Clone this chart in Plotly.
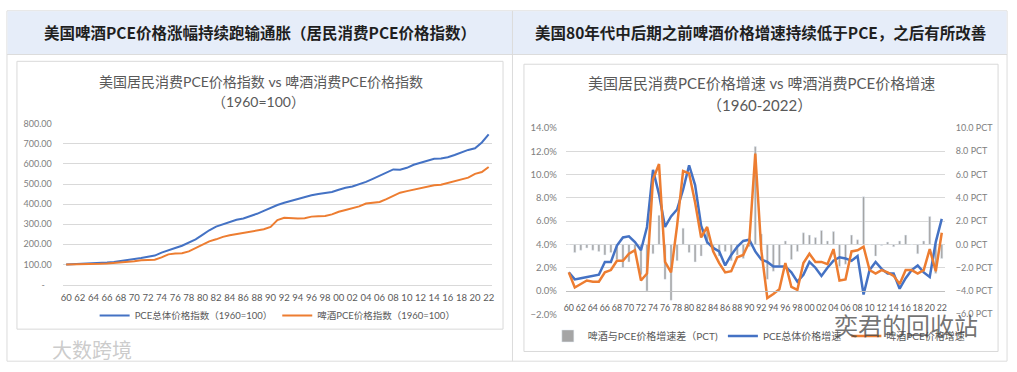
import plotly.graph_objects as go

W, H = 1017, 372

years = ["60", "61", "62", "63", "64", "65", "66", "67", "68", "69",
         "70", "71", "72", "73", "74", "75", "76", "77", "78", "79",
         "80", "81", "82", "83", "84", "85", "86", "87", "88", "89",
         "90", "91", "92", "93", "94", "95", "96", "97", "98", "99",
         "00", "01", "02", "03", "04", "05", "06", "07", "08", "09",
         "10", "11", "12", "13", "14", "15", "16", "17", "18", "19",
         "20", "21", "22"]
tick_years = years[::2]

# Left chart: price index (1960=100)
pce_index = [100, 101, 102, 103, 105, 106, 109, 112, 116, 121,
             127, 132, 137, 144, 159, 172, 182, 193, 207, 225,
             247, 270, 288, 300, 311, 322, 329, 339, 352, 367,
             383, 396, 407, 417, 426, 435, 444, 451, 455, 461,
             472, 482, 488, 498, 511, 526, 541, 555, 573, 571,
             581, 596, 607, 616, 626, 627, 634, 645, 659, 670,
             678, 707, 747]
beer_index = [100, 100, 101, 102, 103, 103, 105, 107, 110, 113,
              116, 121, 122, 123, 135, 150, 154, 156, 165, 182,
              200, 215, 225, 237, 245, 251, 255, 260, 267, 275,
              287, 321, 332, 330, 329, 330, 338, 340, 341, 349,
              362, 371, 380, 389, 403, 407, 411, 425, 440, 457,
              465, 472, 480, 488, 494, 497, 506, 515, 523, 532,
              551, 560, 585]

# Right chart: growth rates (%) and difference (PCT)
pce_growth = [1.6, 1.0, 1.1, 1.2, 1.3, 1.4, 2.5, 2.5, 3.9, 4.6,
              4.7, 4.2, 3.5, 5.5, 10.4, 8.3, 5.5, 6.4, 7.0, 8.7,
              10.8, 9.1, 5.6, 4.2, 3.7, 3.4, 2.2, 3.1, 3.8, 4.3,
              4.4, 3.4, 2.7, 2.5, 2.1, 2.1, 2.1, 1.6, 0.8, 1.4,
              2.5, 2.0, 1.3, 2.0, 2.6, 2.9, 2.8, 2.6, 3.0, -0.3,
              1.8, 2.5, 1.9, 1.5, 1.5, 0.2, 1.1, 1.8, 2.2, 1.6,
              1.2, 4.2, 6.2]
beer_growth = [1.6, 0.3, 0.6, 0.9, 0.8, 0.8, 1.6, 1.8, 2.6, 2.6,
               3.2, 3.5, 0.9, 1.5, 9.6, 10.9, 2.5, 1.6, 5.6, 10.3,
               10.1, 7.6, 4.6, 5.5, 3.4, 2.4, 1.6, 1.7, 2.9, 3.1,
               4.2, 11.8, 3.5, -0.6, -0.25, 0.15, 2.4, 0.35, 0.1, 2.4,
               3.2, 2.5, 2.5, 2.3, 3.6, 0.9, 1.0, 3.4, 3.5, 3.8,
               1.8, 1.5, 1.8, 1.6, 1.3, 0.6, 1.8, 1.8, 1.5, 1.8,
               3.6, 1.7, 5.0]
diff_pct = [0.0, -0.7, -0.5, -0.3, -0.5, -0.6, -0.9, -0.7, -1.3, -2.0,
            -1.5, -0.7, -2.6, -4.0, -0.8, 2.5, -3.0, -4.8, -1.4, 1.4,
            -0.7, -1.5, -1.0, 1.3, -0.3, -1.0, -0.6, -1.4, -0.9, -1.2,
            -0.2, 8.4, 0.9, -3.0, -2.3, -1.8, 0.3, -1.3, -0.6, 1.0,
            0.8, 0.6, 1.2, 0.3, 1.1, -1.9, -1.7, 0.8, 0.4, 4.1,
            0.0, -1.0, -0.1, 0.2, -0.2, 0.3, 0.8, 0.0, -0.8, 0.3,
            2.4, -2.5, -1.2]

left_ticks = [0, 100, 200, 300, 400, 500, 600, 700, 800]
left_ticktext = ["-\u00a0\u00a0\u00a0"] + [f"{v:.2f}" for v in left_ticks[1:]]

BLUE = "#4472c4"
ORANGE = "#ed7d31"
GRAY = "#a5a5a5"
GRID = "#d9d9d9"
TXT = "#595959"
FONT = "Lato, 'Noto Sans CJK SC', sans-serif"
CJK = "'Noto Sans CJK SC', sans-serif"


def px(x):
    return x / W


def py(y):
    return 1 - y / H


fig = go.Figure()

# ---- left chart traces ----
fig.add_trace(go.Scatter(x=years, y=pce_index, mode="lines", name="PCE总体价格指数（1960=100）",
                         line=dict(color=BLUE, width=2), xaxis="x", yaxis="y", legend="legend"))
fig.add_trace(go.Scatter(x=years, y=beer_index, mode="lines", name="啤酒PCE价格指数（1960=100）",
                         line=dict(color=ORANGE, width=2), xaxis="x", yaxis="y", legend="legend"))

# ---- right chart traces ----
fig.add_trace(go.Bar(x=years, y=diff_pct, name="啤酒与PCE价格增速差（PCT)", marker_color=GRAY,
                     width=0.35, xaxis="x2", yaxis="y2", legend="legend2"))
fig.add_trace(go.Scatter(x=years, y=pce_growth, mode="lines", name="PCE总体价格增速",
                         line=dict(color=BLUE, width=2.5), xaxis="x2", yaxis="y3", legend="legend2"))
fig.add_trace(go.Scatter(x=years, y=beer_growth, mode="lines", name="啤酒PCE价格增速",
                         line=dict(color=ORANGE, width=2.5), xaxis="x2", yaxis="y3", legend="legend2"))

shapes = [
    dict(type="rect", xref="paper", yref="paper", x0=px(5), x1=px(1009), y0=py(5), y1=py(366),
         line=dict(color="#dcdcdc", width=1), fillcolor="rgba(0,0,0,0)", layer="below"),
    dict(type="rect", xref="paper", yref="paper", x0=px(5.5), x1=px(512), y0=py(5.5), y1=py(50),
         line=dict(width=0), fillcolor="#e6edf9", layer="below"),
    dict(type="rect", xref="paper", yref="paper", x0=px(513), x1=px(1008.5), y0=py(5.5), y1=py(50),
         line=dict(width=0), fillcolor="#e6edf9", layer="below"),
    dict(type="line", xref="paper", yref="paper", x0=px(5), x1=px(1009), y0=py(50), y1=py(50),
         line=dict(color="#dcdcdc", width=1), layer="below"),
    dict(type="line", xref="paper", yref="paper", x0=px(512.5), x1=px(512.5), y0=py(5), y1=py(366),
         line=dict(color="#dcdcdc", width=1), layer="below"),
    dict(type="rect", xref="paper", yref="paper", x0=px(15), x1=px(503), y0=py(57), y1=py(333),
         line=dict(color="#d9d9d9", width=1), fillcolor="white", layer="below"),
    dict(type="rect", xref="paper", yref="paper", x0=px(524), x1=px(1000), y0=py(60), y1=py(356),
         line=dict(color="#d9d9d9", width=1), fillcolor="white", layer="below"),
]


def ann(text, x, y, size, color, family=FONT):
    return dict(text=text, x=px(x), y=py(y), xref="paper", yref="paper", showarrow=False,
                xanchor="center", yanchor="middle", font=dict(family=family, size=size, color=color))


annotations = [
    ann("<b>美国啤酒PCE价格涨幅持续跑输通胀（居民消费PCE价格指数）</b>", 259, 27, 15.5, "#1f1f1f", CJK),
    ann("<b>美国80年代中后期之前啤酒价格增速持续低于PCE，之后有所改善</b>", 761, 27, 15.5, "#1f1f1f", CJK),
    ann("美国居民消费PCE价格指数 vs 啤酒消费PCE价格指数", 260, 78, 14, TXT),
    ann("（1960=100）", 258, 98, 14, TXT),
    ann("美国居民消费PCE价格增速 vs 啤酒消费PCE价格增速", 762, 79, 15, TXT),
    ann("（1960-2022）", 760, 102, 15, TXT),
    ann("奕君的回收站", 908, 328, 24, "rgba(70,70,70,0.75)", CJK),
    ann("大数跨境", 90, 354, 20, "rgba(190,190,190,0.8)", CJK),
]

fig.update_layout(
    width=W, height=H,
    margin=dict(l=0, r=0, t=0, b=0),
    paper_bgcolor="white", plot_bgcolor="rgba(0,0,0,0)",
    font=dict(family=FONT, color=TXT),
    shapes=shapes, annotations=annotations,
    xaxis=dict(domain=[px(61), px(492)], type="category", categoryorder="array", categoryarray=years,
               range=[-0.5, 62.5], tickmode="array", tickvals=tick_years, ticktext=tick_years,
               tickangle=0, tickfont=dict(size=9.5, color=TXT), showgrid=False, showline=True,
               linecolor=GRID, linewidth=1, ticks="", ticklabelstandoff=4, anchor="y"),
    yaxis=dict(domain=[py(287), py(121.4)], range=[0, 800], tickmode="array", tickvals=left_ticks,
               ticktext=left_ticktext, tickfont=dict(size=9, color="#808080"), showgrid=True,
               gridcolor=GRID, gridwidth=1, zeroline=False, showline=False, ticks="",
               ticklabelstandoff=10, anchor="x"),
    xaxis2=dict(domain=[px(566), px(946.5)], type="category", categoryorder="array", categoryarray=years,
                range=[-0.5, 62.5], tickmode="array", tickvals=tick_years, ticktext=tick_years,
                tickangle=0, tickfont=dict(size=8.8, color=TXT), showgrid=False, showline=True,
                linecolor="#bfbfbf", linewidth=1, ticks="", ticklabelstandoff=8,
                anchor="free", position=py(293.7)),
    yaxis2=dict(domain=[py(317.7), py(125.7)], range=[-6, 10], dtick=2, tick0=0, tickformat=".1f",
                ticksuffix=" PCT", side="right", anchor="x2", tickfont=dict(size=9, color="#808080"),
                showgrid=True, gridcolor=GRID, gridwidth=1, zeroline=False, showline=False, ticks="",
                ticklabelstandoff=10),
    yaxis3=dict(range=[-2, 14], dtick=2, tick0=0, tickformat=".1f", ticksuffix="%", side="left",
                overlaying="y2", anchor="x2", tickfont=dict(size=9.5, color="#808080"),
                showgrid=False, zeroline=False, showline=False, ticks="", ticklabelstandoff=8),
    legend=dict(orientation="h", x=px(93), y=py(319), xanchor="left", yanchor="middle",
                font=dict(size=9.5, color=TXT), bgcolor="rgba(0,0,0,0)", itemwidth=30),
    legend2=dict(orientation="h", x=px(548), y=py(340), xanchor="left", yanchor="middle",
                 font=dict(size=10, color=TXT), bgcolor="rgba(0,0,0,0)", itemwidth=30),
)

fig.write_html("out.html", config={"displayModeBar": False},
               post_script="document.body.style.margin='0';")
